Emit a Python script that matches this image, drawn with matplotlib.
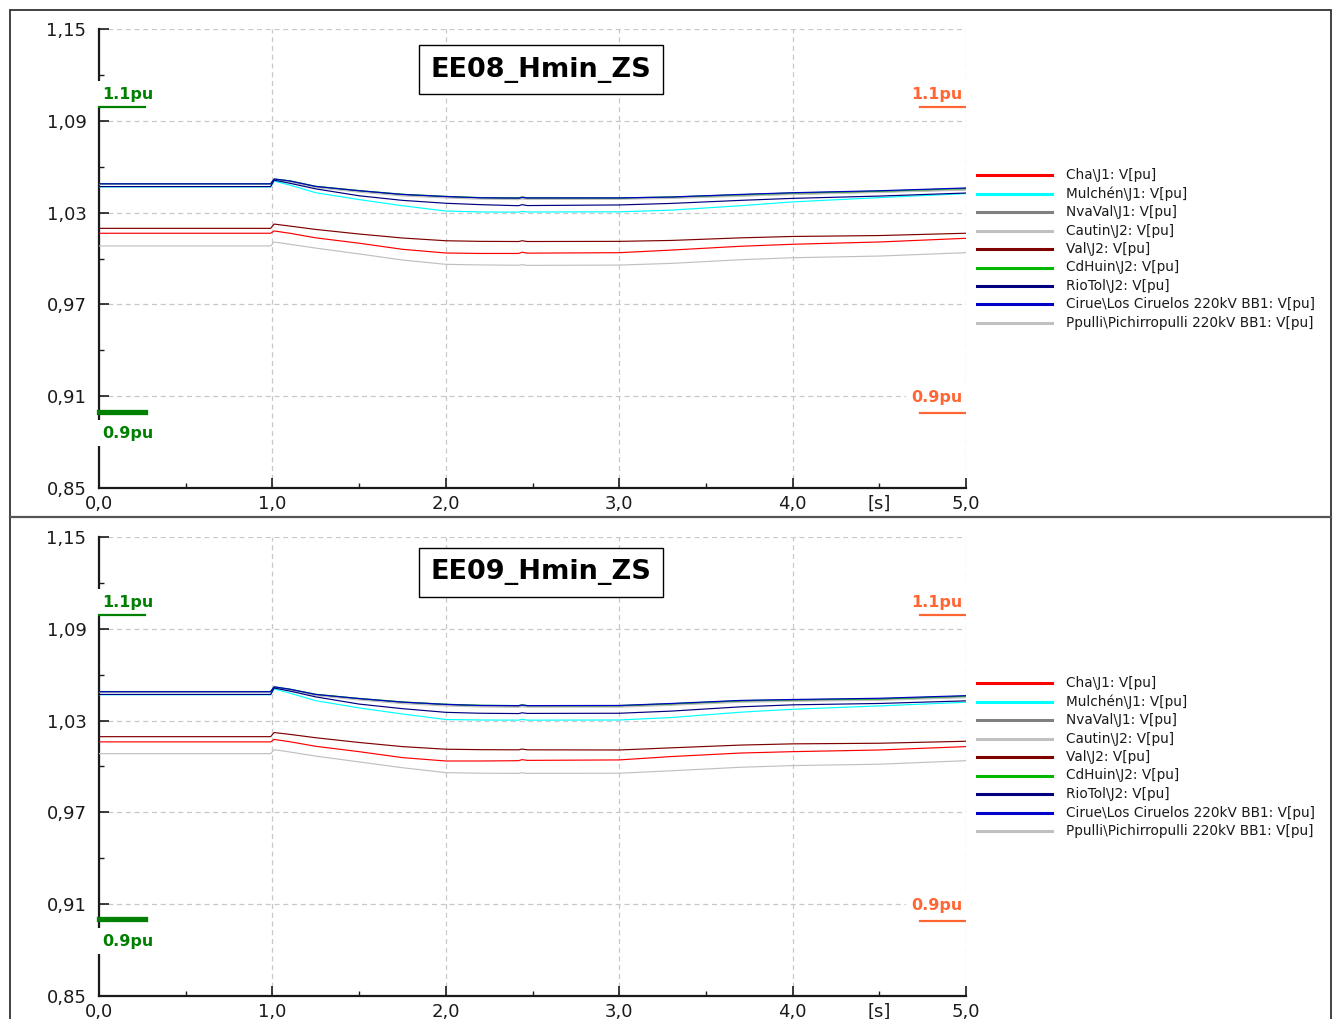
import matplotlib
matplotlib.use("Agg")
import matplotlib.pyplot as plt
from matplotlib.lines import Line2D
from matplotlib.patches import Rectangle
from matplotlib.ticker import FixedLocator, FuncFormatter, FixedFormatter

# ---- simulation results (voltage in pu vs time in s) --------------------------
T = [0.0, 0.99, 1.01, 1.1, 1.25, 1.5, 1.75, 2.0, 2.2, 2.42, 2.44, 2.47,
     3.0, 3.3, 3.7, 4.0, 4.5, 5.0]

NAMES = ["Cha\\J1: V[pu]", "Mulchén\\J1: V[pu]", "NvaVal\\J1: V[pu]",
         "Cautin\\J2: V[pu]", "Val\\J2: V[pu]", "CdHuin\\J2: V[pu]",
         "RioTol\\J2: V[pu]", "Cirue\\Los Ciruelos 220kV BB1: V[pu]",
         "Ppulli\\Pichirropulli 220kV BB1: V[pu]"]
COLORS = ["#ff0000", "#00ffff", "#808080", "#c0c0c0", "#800000",
          "#00b800", "#000080", "#0000c8", "#c0c0c0"]

# EE08_Hmin_ZS
EE08_CHA = [1.0165, 1.0165, 1.0180, 1.0165, 1.0135, 1.0100, 1.0060, 1.0036, 1.0033,
            1.0033, 1.0041, 1.0035, 1.0038, 1.0055, 1.0080, 1.0093, 1.0108, 1.0132]
EE08_MULCHEN = [1.0468, 1.0468, 1.0506, 1.0480, 1.0430, 1.0385, 1.0345, 1.0310, 1.0304,
                1.0303, 1.0308, 1.0304, 1.0305, 1.0316, 1.0345, 1.0370, 1.0398, 1.0424]
EE08_NVAVAL = [1.0486, 1.0486, 1.0516, 1.0504, 1.0468, 1.0440, 1.0415, 1.0402, 1.0394,
               1.0392, 1.0396, 1.0392, 1.0392, 1.0397, 1.0410, 1.0421, 1.0435, 1.0450]
EE08_CAUTIN = [1.0484, 1.0484, 1.0513, 1.0500, 1.0463, 1.0434, 1.0409, 1.0396, 1.0388,
               1.0385, 1.0389, 1.0386, 1.0387, 1.0393, 1.0407, 1.0418, 1.0432, 1.0447]
EE08_VAL = [1.0197, 1.0197, 1.0225, 1.0212, 1.0190, 1.0160, 1.0134, 1.0116, 1.0112,
            1.0111, 1.0116, 1.0111, 1.0112, 1.0118, 1.0135, 1.0144, 1.0150, 1.0165]
EE08_CDHUIN = [1.0489, 1.0489, 1.0519, 1.0508, 1.0472, 1.0444, 1.0420, 1.0406, 1.0398,
               1.0396, 1.0402, 1.0397, 1.0396, 1.0402, 1.0417, 1.0428, 1.0440, 1.0458]
EE08_RIOTOL = [1.0470, 1.0470, 1.0512, 1.0492, 1.0455, 1.0410, 1.0380, 1.0361, 1.0352,
               1.0345, 1.0352, 1.0346, 1.0350, 1.0360, 1.0380, 1.0393, 1.0408, 1.0428]
EE08_CIRUE = [1.0488, 1.0488, 1.0520, 1.0507, 1.0471, 1.0443, 1.0419, 1.0405, 1.0397,
              1.0395, 1.0400, 1.0396, 1.0396, 1.0402, 1.0419, 1.0430, 1.0443, 1.0461]
EE08_PPULLI = [1.0082, 1.0082, 1.0108, 1.0093, 1.0068, 1.0030, 0.9990, 0.9962, 0.9958,
               0.9956, 0.9960, 0.9955, 0.9957, 0.9968, 0.9992, 1.0005, 1.0016, 1.0038]

# EE09_Hmin_ZS
EE09_CHA = [1.0161, 1.0161, 1.0177, 1.0162, 1.0132, 1.0097, 1.0058, 1.0036, 1.0036,
            1.0038, 1.0045, 1.0040, 1.0043, 1.0065, 1.0088, 1.0097, 1.0108, 1.0130]
EE09_MULCHEN = [1.0469, 1.0469, 1.0507, 1.0480, 1.0430, 1.0383, 1.0343, 1.0307, 1.0304,
                1.0303, 1.0308, 1.0303, 1.0304, 1.0320, 1.0355, 1.0374, 1.0396, 1.0420]
EE09_NVAVAL = [1.0487, 1.0487, 1.0516, 1.0502, 1.0467, 1.0440, 1.0417, 1.0402, 1.0395,
               1.0393, 1.0397, 1.0393, 1.0393, 1.0405, 1.0425, 1.0431, 1.0437, 1.0454]
EE09_CAUTIN = [1.0485, 1.0485, 1.0514, 1.0499, 1.0463, 1.0435, 1.0411, 1.0396, 1.0389,
               1.0387, 1.0391, 1.0388, 1.0388, 1.0400, 1.0420, 1.0426, 1.0433, 1.0450]
EE09_VAL = [1.0195, 1.0195, 1.0222, 1.0210, 1.0188, 1.0157, 1.0130, 1.0113, 1.0110,
            1.0109, 1.0114, 1.0109, 1.0108, 1.0122, 1.0140, 1.0148, 1.0152, 1.0165]
EE09_CDHUIN = [1.0490, 1.0490, 1.0520, 1.0506, 1.0472, 1.0445, 1.0422, 1.0407, 1.0400,
               1.0398, 1.0403, 1.0398, 1.0398, 1.0410, 1.0430, 1.0436, 1.0442, 1.0460]
EE09_RIOTOL = [1.0471, 1.0471, 1.0513, 1.0493, 1.0455, 1.0408, 1.0378, 1.0354, 1.0348,
               1.0346, 1.0351, 1.0347, 1.0348, 1.0362, 1.0390, 1.0403, 1.0412, 1.0429]
EE09_CIRUE = [1.0489, 1.0489, 1.0521, 1.0505, 1.0471, 1.0444, 1.0421, 1.0406, 1.0399,
              1.0398, 1.0402, 1.0398, 1.0399, 1.0412, 1.0432, 1.0438, 1.0446, 1.0463]
EE09_PPULLI = [1.0084, 1.0084, 1.0110, 1.0095, 1.0068, 1.0030, 0.9992, 0.9960, 0.9956,
               0.9955, 0.9959, 0.9955, 0.9956, 0.9972, 0.9995, 1.0006, 1.0015, 1.0038]

CASES = [
    ("EE08_Hmin_ZS", [EE08_CHA, EE08_MULCHEN, EE08_NVAVAL, EE08_CAUTIN, EE08_VAL,
                      EE08_CDHUIN, EE08_RIOTOL, EE08_CIRUE, EE08_PPULLI], 1.1235),
    ("EE09_Hmin_ZS", [EE09_CHA, EE09_MULCHEN, EE09_NVAVAL, EE09_CAUTIN, EE09_VAL,
                      EE09_CDHUIN, EE09_RIOTOL, EE09_CIRUE, EE09_PPULLI], 1.1268),
]

Y_MAJOR = [0.85, 0.91, 0.97, 1.03, 1.09, 1.15]
Y_MINOR = [0.88, 0.94, 1.00, 1.06, 1.12]
X_MAJOR = [0, 1, 2, 3, 4, 5]
X_MINOR = [0.5, 1.5, 2.5, 3.5, 4.5]
X_MINOR_LABELS = ["", "", "", "", "[s]"]

GREEN, ORANGE, INK, GRID = "#008000", "#ff6633", "#1a1a1a", "#c8c8c8"

W, H = 1337, 1019
plt.rcParams.update({"font.family": "DejaVu Sans"})
fig = plt.figure(figsize=(W / 100, H / 100), dpi=100)

# outer frame and panel divider
fig.add_artist(Rectangle((10 / W, -0.02), 1321 / W, 1 - 10 / H + 0.02,
                         transform=fig.transFigure, fill=False, lw=1.3, ec="#333333"))
fig.add_artist(Line2D([10 / W, 1331 / W], [1 - 517 / H] * 2,
                      transform=fig.transFigure, lw=1.6, color="#555555"))

panel_top = [29, 537]   # pixel row of the 1,15 grid line in each panel
for (title, series, title_y), top_px in zip(CASES, panel_top):
    ax = fig.add_axes([99 / W, 1 - (top_px + 459) / H, 867 / W, 459 / H])
    ax.set_xlim(0, 5)
    ax.set_ylim(0.85, 1.15)

    for vals, name, col in zip(series, NAMES, COLORS):
        ax.plot(T, vals, color=col, lw=0.85, zorder=3)

    # axes styling
    for sp in ("top", "right"):
        ax.spines[sp].set_visible(False)
    for sp in ("left", "bottom"):
        ax.spines[sp].set_linewidth(1.6)
        ax.spines[sp].set_color(INK)
    ax.yaxis.set_major_locator(FixedLocator(Y_MAJOR))
    ax.yaxis.set_minor_locator(FixedLocator(Y_MINOR))
    ax.xaxis.set_major_locator(FixedLocator(X_MAJOR))
    ax.xaxis.set_minor_locator(FixedLocator(X_MINOR))
    ax.yaxis.set_major_formatter(FuncFormatter(lambda v, _: f"{v:.2f}".replace(".", ",")))
    ax.xaxis.set_major_formatter(FuncFormatter(lambda v, _: f"{v:.1f}".replace(".", ",")))
    ax.xaxis.set_minor_formatter(FixedFormatter(X_MINOR_LABELS))
    ax.tick_params(which="both", direction="in", color=INK, labelsize=13, labelcolor=INK)
    ax.tick_params(which="major", length=7, width=1.2)
    ax.tick_params(which="minor", length=3.5, width=1.0)
    ax.tick_params(axis="y", pad=9)
    ax.tick_params(axis="x", which="both", pad=5)
    ax.grid(True, which="major", color=GRID, ls=(0, (4, 3)), lw=0.9, zorder=0)

    # voltage limit markers; the white label boxes break the axis spine
    lbl = dict(fontsize=11.5, fontweight="bold", zorder=6,
               bbox=dict(fc="white", ec="none", pad=4))
    ax.text(0.02, 1.1072, "1.1pu", color=GREEN, ha="left", va="center", **lbl)
    ax.text(0.02, 0.8858, "0.9pu", color=GREEN, ha="left", va="center", **lbl)
    ax.text(4.98, 1.1072, "1.1pu", color=ORANGE, ha="right", va="center", **lbl)
    ax.text(4.98, 0.9090, "0.9pu", color=ORANGE, ha="right", va="center", **lbl)
    ax.plot([0, 0.265], [1.099, 1.099], color=GREEN, lw=1.6, zorder=7, clip_on=False)
    ax.plot([0, 0.265], [0.9, 0.9], color=GREEN, lw=3.8, zorder=7, clip_on=False)
    ax.plot([4.735, 5.0], [1.099, 1.099], color=ORANGE, lw=1.6, zorder=7)
    ax.plot([4.735, 5.0], [0.899, 0.899], color=ORANGE, lw=1.6, zorder=7)

    ax.text(2.55, title_y, title, fontsize=19.5, fontweight="bold", color="black",
            ha="center", va="center", zorder=6,
            bbox=dict(boxstyle="square,pad=0.42", fc="white", ec="black", lw=1.0))

    # legend, drawn at fixed positions to the right of the plot
    for i, (name, col) in enumerate(zip(NAMES, COLORS)):
        yy = 1 - (top_px + 146 + i * 18.5) / H
        fig.add_artist(Line2D([977 / W, 1052 / W], [yy, yy], transform=fig.transFigure,
                              color=col, lw=2.2))
        fig.text(1066 / W, yy, name, fontsize=9.8, color=INK, ha="left", va="center")

fig.savefig("out.png", dpi=100, facecolor="white")
